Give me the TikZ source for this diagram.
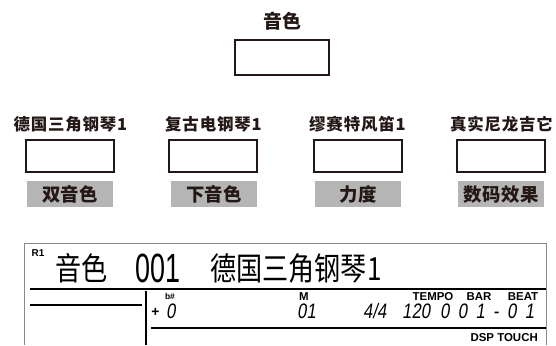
\documentclass[tikz,border=0pt]{standalone}
\usepackage{fontspec}
\setmainfont{Liberation Sans}
\newfontfamily\cjktop[LetterSpace=5]{Noto Sans CJK SC}
\newfontfamily\cjkrow[LetterSpace=5]{Noto Sans CJK SC}
\newfontfamily\cjktag[LetterSpace=2]{Noto Sans CJK SC}
\newfontfamily\cjklcd[FakeStretch=0.82]{Noto Sans CJK SC}
\newfontfamily\lcdnum[FakeStretch=0.66]{Liberation Sans}
\newfontfamily\segfont[FakeSlant=0.15,FakeStretch=0.8]{Liberation Sans}
\newfontfamily\segwide[FakeSlant=0.15,FakeStretch=0.8,LetterSpace=40]{Liberation Sans}
\usetikzlibrary{positioning,calc}

\definecolor{ink}{HTML}{231815}
\definecolor{tag}{HTML}{B5B5B5}
\definecolor{frame}{HTML}{8A8A8A}

\tikzset{
  toplabel/.style={inner sep=0, text=ink, font=\cjktop\bfseries\fontsize{19}{19}\selectfont},
  keylabel/.style={inner sep=0, text=ink, font=\cjkrow\bfseries\fontsize{16.5}{16.5}\selectfont},
  keybox/.style={draw=ink, line width=2bp, minimum width=88bp, minimum height=32bp, inner sep=0},
  keytag/.style={fill=tag, text=ink, minimum width=86bp, minimum height=26bp, inner sep=0,
    font=\cjktag\bfseries\fontsize{18.5}{18.5}\selectfont},
  lcdbig/.style={inner sep=0, anchor=west, font=\cjklcd\fontsize{32}{32}\selectfont},
  segnum/.style={inner sep=0, anchor=west, font=\segfont\fontsize{21}{21}\selectfont},
  lcdtag/.style={inner sep=0, font=\bfseries\fontsize{11.5}{11.5}\selectfont},
  lcdline/.style={line width=1.3bp}
}

\begin{document}
\begin{tikzpicture}[x=1bp, y=-1bp]
\useasboundingbox (0,0) rectangle (556,345);

% voice select
\node[toplabel] (tone) at (282.5,21) {音色};
\node[keybox, minimum width=94bp, minimum height=35bp] (tonebox) at (282,57.5) {};

% number keys
\node[keylabel] (lab1) at (70.4,124.5) {德国三角钢琴1};
\node[keylabel] (lab2) at (213.4,124.5) {复古电钢琴1};
\node[keylabel] (lab3) at (357.4,124.5) {缪赛特风笛1};
\node[keylabel] (lab4) at (501.4,124.5) {真实尼龙吉它};
\node[keybox] (key1) at (70,156) {};
\node[keybox] (key2) at (213,156) {};
\node[keybox] (key3) at (358,156) {};
\node[keybox] (key4) at (501,156) {};
\node[keytag] (tag1) at (70,194) {\hspace{0.4bp}双音色};
\node[keytag] (tag2) at (214,194) {\hspace{0.4bp}下音色};
\node[keytag] (tag3) at (358,194) {\hspace{0.4bp}力度};
\node[keytag] (tag4) at (501,194) {\hspace{0.4bp}数码效果};

% display
\draw[frame, line width=1bp] (24,345) -- (24,243) -- (546,243) -- (546,345);
\node[lcdtag, anchor=west, font=\bfseries\fontsize{10}{10}\selectfont] (reg) at (31.5,253.5) {R1};
\node[lcdbig] (voice) at (55,268) {音色};
\node[inner sep=0, anchor=west, font=\lcdnum\fontsize{41}{41}\selectfont] (num) at (135,268) {001};
\node[lcdbig] (name) at (210,268) {德国三角钢琴1};
\coordinate (topl) at (30,289);
\coordinate (topr) at (546,289);
\draw[lcdline] (topl) -- (topr);
\coordinate (midl) at (30,305);
\coordinate (midr) at (142,305);
\draw[lcdline] (midl) -- (midr);
\coordinate (vtop) at (146,291);
\coordinate (vbot) at (146,345);
\draw[lcdline] (vtop) -- (vbot);
\coordinate (lowl) at (151,328);
\coordinate (lowr) at (546,328);
\draw[lcdline] (lowl) -- (lowr);

\node[lcdtag, font=\bfseries\fontsize{8.5}{8.5}\selectfont] (acc) at (170,296.5) {b\#};
\node[inner sep=0, font=\bfseries\fontsize{14}{14}\selectfont] (plus) at (155.5,312) {+};
\node[segnum] (trans) at (166,311) {0};
\node[lcdtag] (mlab) at (304,296.5) {M};
\node[segnum] (mnum) at (297,311) {01};
\node[segnum] (beat) at (363,311) {4/4};
\node[lcdtag] (tempo) at (433,296.5) {TEMPO};
\node[lcdtag] (bar) at (479,296.5) {BAR};
\node[lcdtag] (beatlab) at (523,296.5) {BEAT};
\node[segnum] (tnum) at (402,311) {120};
\node[segnum, font=\segwide\fontsize{21}{21}\selectfont] (bnum) at (440,311) {001-01};
\node[lcdtag, anchor=east] (dsp) at (538,338) {DSP TOUCH};
\end{tikzpicture}
\end{document}
